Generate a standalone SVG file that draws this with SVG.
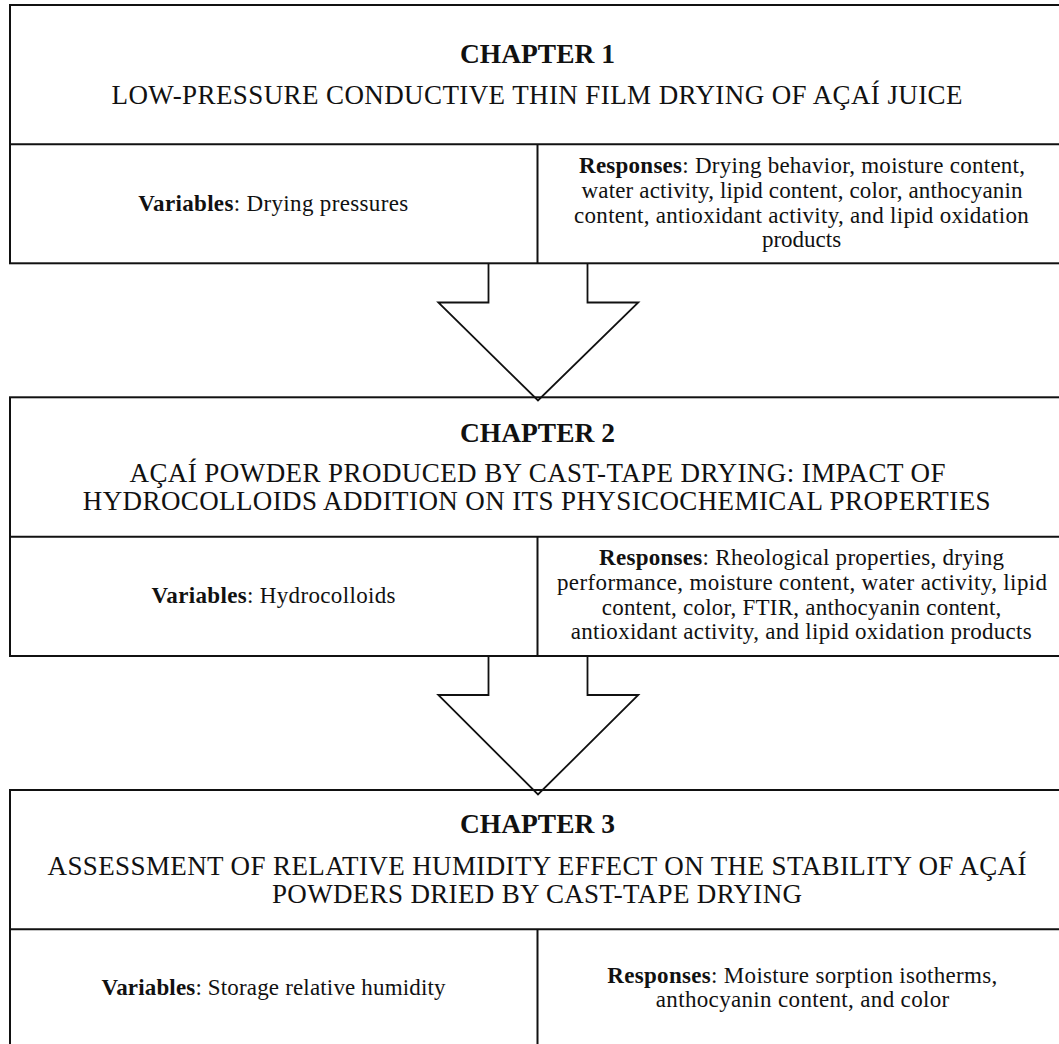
<svg xmlns="http://www.w3.org/2000/svg" width="1059" height="1044" viewBox="0 0 1059 1044">
<style>
  .box { fill: #ffffff; stroke: #111111; stroke-width: 2; }
  .div { stroke: #111111; stroke-width: 2; fill: none; }
  .arrow { fill: none; stroke: #111111; stroke-width: 1.8; stroke-linejoin: miter; }
  text { font-family: "Liberation Serif", "Times New Roman", serif; fill: #111111; }
  .chap { font-size: 27px; font-weight: bold; text-anchor: middle; }
  .title { font-size: 27px; text-anchor: middle; }
  .body { font-size: 23px; text-anchor: middle; }
  .b { font-weight: bold; }
</style>
<rect width="1059" height="1044" fill="#ffffff"/>

<g id="chapter1">
  <rect class="box" x="10" y="5" width="1055" height="258.3"/>
  <line class="div" x1="10" y1="144.3" x2="1065" y2="144.3"/>
  <line class="div" x1="537.5" y1="144.3" x2="537.5" y2="263.3"/>
  <text class="chap" x="537.5" y="63.3" textLength="155" lengthAdjust="spacingAndGlyphs">CHAPTER 1</text>
  <text class="title" x="537" y="104" textLength="851" lengthAdjust="spacing">LOW-PRESSURE CONDUCTIVE THIN FILM DRYING OF AÇAÍ JUICE</text>
  <text class="body" x="273.2" y="210.7" textLength="270" lengthAdjust="spacing"><tspan class="b">Variables</tspan>: Drying pressures</text>
  <text class="body" x="802" y="173.3" textLength="446" lengthAdjust="spacing"><tspan class="b">Responses</tspan>: Drying behavior, moisture content,</text>
  <text class="body" x="802" y="198.3" textLength="441" lengthAdjust="spacing">water activity, lipid content, color, anthocyanin</text>
  <text class="body" x="801.4" y="222.7" textLength="454.6" lengthAdjust="spacing">content, antioxidant activity, and lipid oxidation</text>
  <text class="body" x="801.5" y="246.7">products</text>
</g>

<g id="chapter2">
  <rect class="box" x="10" y="397.3" width="1055" height="258.7"/>
  <line class="div" x1="10" y1="536.7" x2="1065" y2="536.7"/>
  <line class="div" x1="537.5" y1="536.7" x2="537.5" y2="656"/>
  <text class="chap" x="537.5" y="441.7" textLength="155" lengthAdjust="spacingAndGlyphs">CHAPTER 2</text>
  <text class="title" x="537.5" y="481.7" textLength="816" lengthAdjust="spacing">AÇAÍ POWDER PRODUCED BY CAST-TAPE DRYING: IMPACT OF</text>
  <text class="title" x="536.7" y="510" textLength="907.7" lengthAdjust="spacing">HYDROCOLLOIDS ADDITION ON ITS PHYSICOCHEMICAL PROPERTIES</text>
  <text class="body" x="273.5" y="602.7" textLength="244" lengthAdjust="spacing"><tspan class="b">Variables</tspan>: Hydrocolloids</text>
  <text class="body" x="801.5" y="565" textLength="405" lengthAdjust="spacing"><tspan class="b">Responses</tspan>: Rheological properties, drying</text>
  <text class="body" x="802" y="590" textLength="490" lengthAdjust="spacing">performance, moisture content, water activity, lipid</text>
  <text class="body" x="801.5" y="615" textLength="399.6" lengthAdjust="spacing">content, color, FTIR, anthocyanin content,</text>
  <text class="body" x="801.2" y="639.3" textLength="461" lengthAdjust="spacing">antioxidant activity, and lipid oxidation products</text>
</g>

<g id="chapter3">
  <rect class="box" x="10" y="790" width="1055" height="270"/>
  <line class="div" x1="10" y1="929.3" x2="1065" y2="929.3"/>
  <line class="div" x1="537.5" y1="929.3" x2="537.5" y2="1060"/>
  <text class="chap" x="537.5" y="833.3" textLength="155" lengthAdjust="spacingAndGlyphs">CHAPTER 3</text>
  <text class="title" x="537" y="875" textLength="979" lengthAdjust="spacing">ASSESSMENT OF RELATIVE HUMIDITY EFFECT ON THE STABILITY OF AÇAÍ</text>
  <text class="title" x="537" y="903.3" textLength="530" lengthAdjust="spacing">POWDERS DRIED BY CAST-TAPE DRYING</text>
  <text class="body" x="273.5" y="995" textLength="344" lengthAdjust="spacing"><tspan class="b">Variables</tspan>:  Storage relative humidity</text>
  <text class="body" x="802.3" y="983.3" textLength="390" lengthAdjust="spacing"><tspan class="b">Responses</tspan>: Moisture sorption isotherms,</text>
  <text class="body" x="802.5" y="1007.3" textLength="293.4" lengthAdjust="spacing">anthocyanin content, and color</text>
</g>

<g id="connectors">
  <path id="arrow1" class="arrow" d="M488.5,263.3 V302.5 H438.3 L538,400.5 L638.3,302.5 H587.5 V263.3"/>
  <path id="arrow2" class="arrow" d="M488.5,656 V695 H438.3 L538,794.5 L638.3,695 H587.5 V656"/>
</g>
</svg>
